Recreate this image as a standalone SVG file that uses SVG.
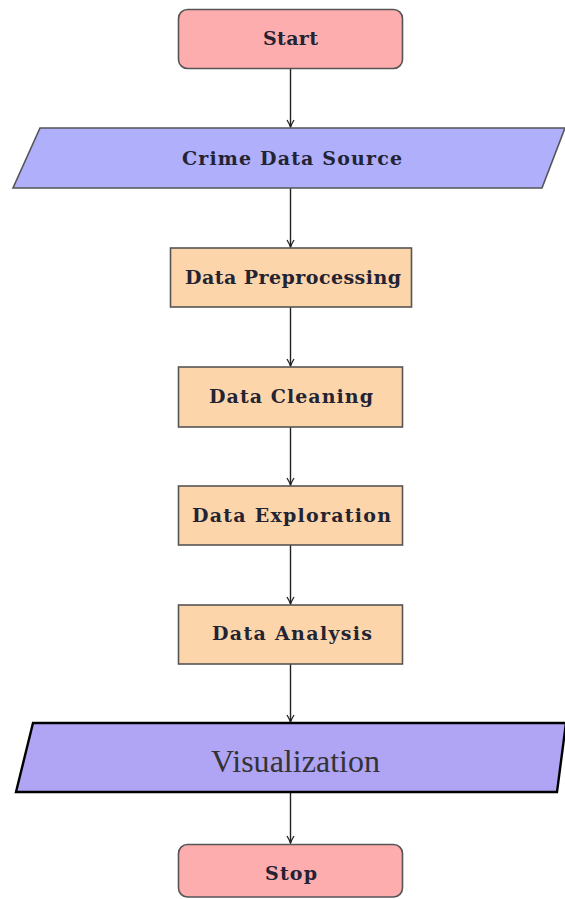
<svg xmlns="http://www.w3.org/2000/svg" width="565" height="899" viewBox="0 0 565 899">
<defs>
<marker id="arr" markerWidth="10" markerHeight="10" refX="8" refY="5" orient="auto" markerUnits="userSpaceOnUse">
<path d="M1,1.5 Q5,4 8,5 Q5,6 1,8.5" fill="none" stroke="#222" stroke-width="1.3"/>
</marker>
<style>
.term{fill:#fdadad;stroke:#555;stroke-width:1.6}
.io{fill:#afaffb;stroke:#555;stroke-width:1.6}
.vis{fill:#b0a4f4;stroke:#000;stroke-width:2.4}
.proc{fill:#fdd5aa;stroke:#555;stroke-width:1.6}
.lbl{font-family:"DejaVu Serif","Liberation Serif",serif;font-weight:bold;font-size:19px;fill:#232333;text-anchor:middle}
.big{font-family:"Liberation Serif","DejaVu Serif",serif;font-weight:normal;font-size:32px;fill:#333;text-anchor:middle}
.conn{stroke:#222;stroke-width:1.4;fill:none}
</style>
</defs>
<rect width="565" height="899" fill="#fff"/>
<g id="connectors">
<line class="conn" x1="290.5" y1="68" x2="290.5" y2="127" marker-end="url(#arr)"/>
<line class="conn" x1="290.5" y1="188" x2="290.5" y2="247" marker-end="url(#arr)"/>
<line class="conn" x1="290.5" y1="307" x2="290.5" y2="366" marker-end="url(#arr)"/>
<line class="conn" x1="290.5" y1="427" x2="290.5" y2="485" marker-end="url(#arr)"/>
<line class="conn" x1="290.5" y1="545" x2="290.5" y2="604" marker-end="url(#arr)"/>
<line class="conn" x1="290.5" y1="664" x2="290.5" y2="722" marker-end="url(#arr)"/>
<line class="conn" x1="290.5" y1="792" x2="290.5" y2="843" marker-end="url(#arr)"/>
</g>
<g id="start">
<rect class="term" x="178.5" y="9.5" width="224" height="59" rx="9"/>
<text class="lbl" x="290.5" y="45" font-size="18" textLength="55" lengthAdjust="spacing">Start</text>
</g>
<g id="crime-data-source">
<polygon class="io" points="40,128 565,128 542,188 13,188"/>
<text class="lbl" x="292" y="165" textLength="220" lengthAdjust="spacing">Crime Data Source</text>
</g>
<g id="data-preprocessing">
<rect class="proc" x="170.5" y="248" width="241" height="59"/>
<text class="lbl" x="293" y="284" textLength="216" lengthAdjust="spacing">Data Preprocessing</text>
</g>
<g id="data-cleaning">
<rect class="proc" x="178.5" y="367" width="224" height="60"/>
<text class="lbl" x="291" y="403" textLength="164" lengthAdjust="spacing">Data Cleaning</text>
</g>
<g id="data-exploration">
<rect class="proc" x="178.5" y="486" width="224" height="59"/>
<text class="lbl" x="291.5" y="522" textLength="199" lengthAdjust="spacing">Data Exploration</text>
</g>
<g id="data-analysis">
<rect class="proc" x="178.5" y="605" width="224" height="59"/>
<text class="lbl" x="292" y="640" textLength="160" lengthAdjust="spacing">Data Analysis</text>
</g>
<g id="visualization">
<polygon class="vis" points="33,723 566,723 557,792 16,792"/>
<text class="big" x="295.5" y="772" textLength="169" lengthAdjust="spacing">Visualization</text>
</g>
<g id="stop">
<rect class="term" x="178.5" y="844.5" width="224" height="52.5" rx="9"/>
<text class="lbl" x="291" y="880" font-size="18" textLength="52" lengthAdjust="spacing">Stop</text>
</g>
</svg>
